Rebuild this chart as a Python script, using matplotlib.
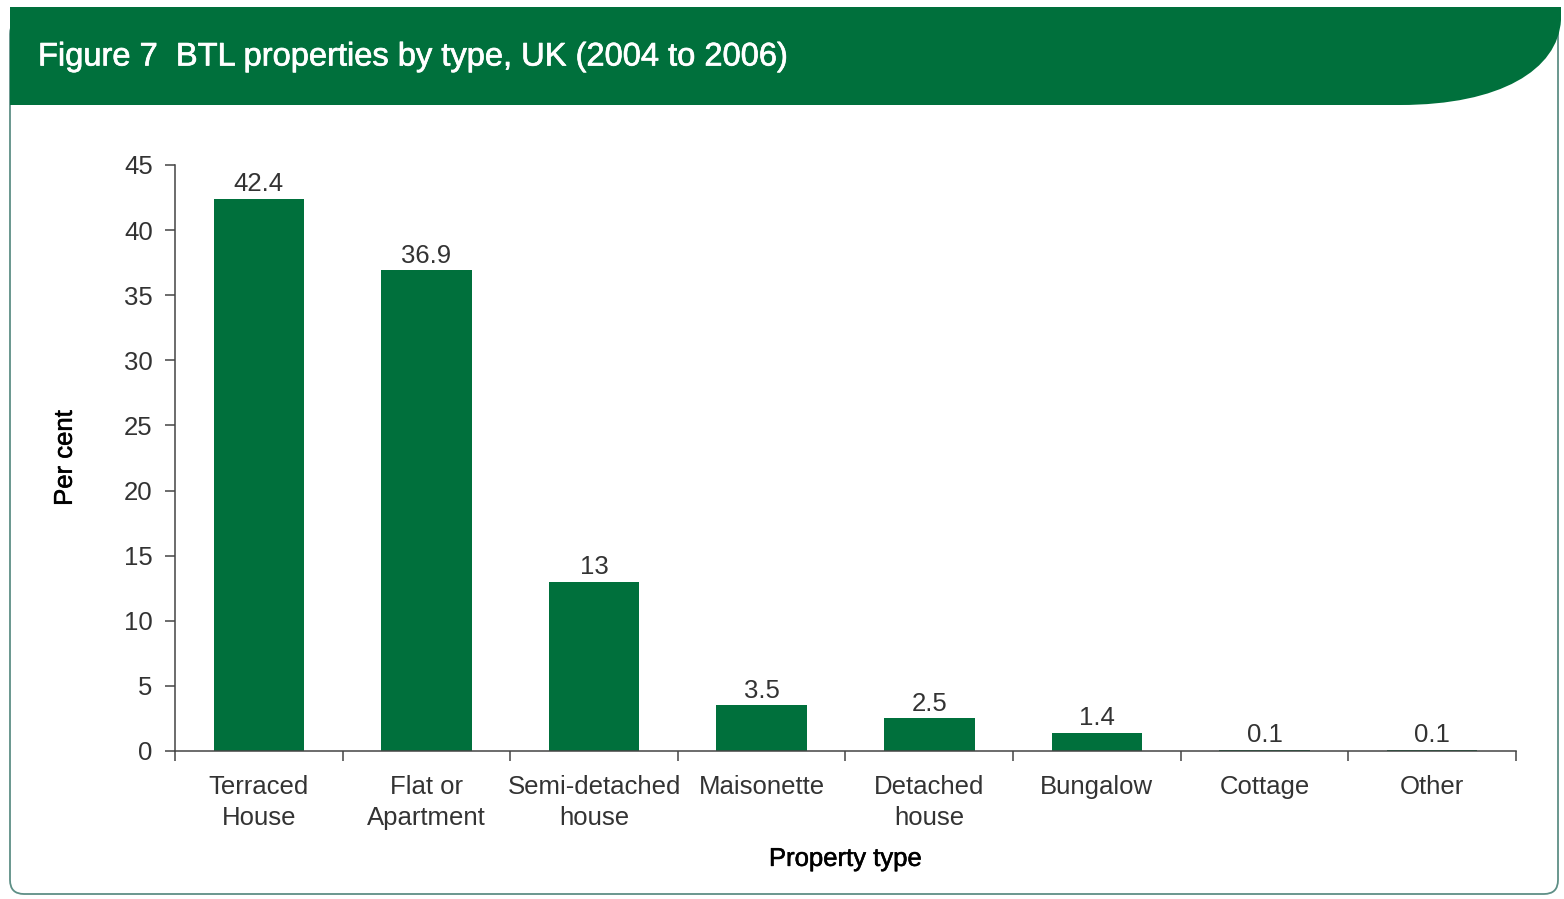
import matplotlib
matplotlib.use("Agg")
import matplotlib.pyplot as plt
import matplotlib.patches as mpatches
import matplotlib.patheffects as pe
from matplotlib.path import Path

# ── Data ───────────────────────────────────────────────────────────────────────
categories = ["Terraced\nHouse", "Flat or\nApartment", "Semi-detached\nhouse",
              "Maisonette", "Detached\nhouse", "Bungalow", "Cottage", "Other"]
per_cent   = [42.4, 36.9, 13, 3.5, 2.5, 1.4, 0.1, 0.1]
value_text = ["42.4", "36.9", "13", "3.5", "2.5", "1.4", "0.1", "0.1"]
y_ticks    = [0, 5, 10, 15, 20, 25, 30, 35, 40, 45]

# ── Style ──────────────────────────────────────────────────────────────────────
W, H, DPI = 1564, 899, 100
GREEN  = "#00703C"
FRAME  = "#5E8F86"
INK    = "#333333"
FONT   = ["Liberation Sans", "DejaVu Sans"]
FS     = 18.5

plt.rcParams["font.family"] = FONT

def heavier(color, w=0.4):
    # a thin stroke in the text colour gives a medium weight
    return [pe.withStroke(linewidth=w, foreground=color)]

fig = plt.figure(figsize=(W / DPI, H / DPI), dpi=DPI, facecolor="white")

# pixel-space layer for the frame and the header band
bg = fig.add_axes([0, 0, 1, 1], zorder=0)
bg.set_xlim(0, W); bg.set_ylim(H, 0); bg.axis("off")

frame = mpatches.FancyBboxPatch((10, 20), 1548, 874,
                                boxstyle="round,pad=0,rounding_size=14",
                                fc="white", ec=FRAME, lw=1.3)
bg.add_patch(frame)

verts = [(10, 7), (1561, 7), (1561, 20),
         (1558, 70), (1500, 105), (1400, 105),
         (10, 105), (10, 7)]
codes = [Path.MOVETO, Path.LINETO, Path.LINETO,
         Path.CURVE4, Path.CURVE4, Path.CURVE4,
         Path.LINETO, Path.CLOSEPOLY]
bg.add_patch(mpatches.PathPatch(Path(verts, codes), fc=GREEN, ec="none"))
bg.text(38, 57, "Figure 7  BTL properties by type, UK (2004 to 2006)",
        color="white", fontsize=23.5, ha="left", va="center",
        path_effects=heavier("white", 0.5))

# ── Chart ──────────────────────────────────────────────────────────────────────
left, right, bottom, top = 175, 1516, 751, 165
ax = fig.add_axes([left / W, 1 - bottom / H, (right - left) / W, (bottom - top) / H],
                  zorder=1)
ax.patch.set_alpha(0)

x = list(range(len(categories)))
ax.bar(x, per_cent, width=0.54, color=GREEN, zorder=2)
for xi, v, t in zip(x, per_cent, value_text):
    ax.annotate(t, (xi, v), xytext=(0, 2), textcoords="offset points",
                ha="center", va="bottom", fontsize=FS, color=INK)

ax.set_xlim(-0.5, len(categories) - 0.5)
ax.set_ylim(0, 45)
ax.set_yticks(y_ticks)
ax.set_yticklabels([str(t) for t in y_ticks], fontsize=FS, color=INK)

ax.set_xticks(x)
ax.set_xticklabels(categories, fontsize=FS, color=INK, linespacing=1.4)
ax.set_xticks([i - 0.5 for i in range(len(categories) + 1)], minor=True)
ax.tick_params(axis="x", which="major", length=0, pad=17)
ax.tick_params(axis="x", which="minor", length=7, width=1.1, color="#444444")
ax.tick_params(axis="y", length=7, width=1.1, color="#444444", pad=9)

for side in ("top", "right"):
    ax.spines[side].set_visible(False)
for side in ("left", "bottom"):
    ax.spines[side].set_color("#444444")
    ax.spines[side].set_linewidth(1.1)

ax.set_ylabel("Per cent", fontsize=FS, color="black", labelpad=34,
              path_effects=heavier("black"))
ax.set_xlabel("Property type", fontsize=FS, color="black", labelpad=12,
              path_effects=heavier("black"))

fig.savefig("out.png", dpi=DPI, facecolor="white")
